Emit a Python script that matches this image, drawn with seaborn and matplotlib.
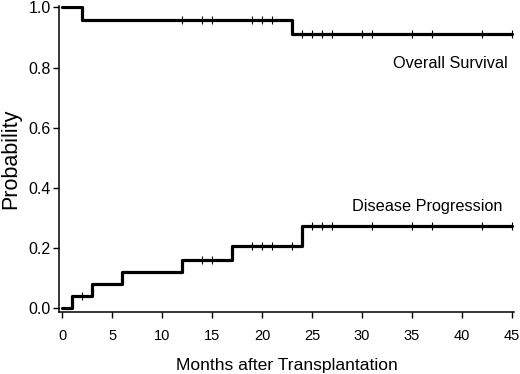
import numpy as np
import pandas as pd
import matplotlib
matplotlib.use("Agg")
import matplotlib.pyplot as plt
import seaborn as sns

sns.set_style("ticks")
plt.rcParams["font.family"] = ["Liberation Sans", "DejaVu Sans"]
plt.rcParams["text.color"] = "black"
plt.rcParams["axes.labelcolor"] = "black"

# curvas (meses, probabilidad)
os_time = [0, 2, 23, 45]
os_prob = [1.0, 0.96, 0.913, 0.913]
os_censor = [12, 14, 15, 19, 20, 21, 24, 25, 26, 27, 30, 31, 35, 37, 42, 45]

dp_time = [0, 1, 3, 6, 12, 17, 24, 45]
dp_prob = [0.0, 0.04, 0.08, 0.12, 0.16, 0.207, 0.274, 0.274]
dp_censor = [2, 14, 15, 19, 20, 21, 23, 25, 26, 27, 31, 35, 37, 42, 45]

x_ticks = [0, 5, 10, 15, 20, 25, 30, 35, 40, 45]
y_ticks = [0.0, 0.2, 0.4, 0.6, 0.8, 1.0]


def step_value(times, probs, t):
    # valor de la curva escalonada en el tiempo t
    i = np.searchsorted(times, t, side="right") - 1
    return np.asarray(probs)[i]


fig = plt.figure(figsize=(5.2, 3.74), dpi=100)
ax = fig.add_axes([0.1135, 0.166, 0.875, 0.818])

for times, probs, cens in [(os_time, os_prob, os_censor), (dp_time, dp_prob, dp_censor)]:
    df = pd.DataFrame({"t": times, "p": probs})
    sns.lineplot(data=df, x="t", y="p", drawstyle="steps-post", color="black",
                 linewidth=2.3, ax=ax)
    dc = pd.DataFrame({"t": cens, "p": step_value(times, probs, cens)})
    sns.scatterplot(data=dc, x="t", y="p", marker="|", s=36, color="black",
                    linewidth=0.8, ax=ax, zorder=3)

ax.text(44.6, 0.815, "Overall Survival", ha="right", va="center", fontsize=11.7, color="black")
ax.text(44.0, 0.337, "Disease Progression", ha="right", va="center", fontsize=11.7, color="black")

ax.set_xlim(-0.3, 45.2)
ax.set_ylim(-0.012, 1.005)
ax.set_xticks(x_ticks)
ax.set_yticks(y_ticks)
ax.set_yticklabels([f"{v:.1f}" for v in y_ticks])
ax.tick_params(axis="both", length=4, width=1, direction="out", colors="black")
ax.tick_params(axis="x", labelsize=10.5, pad=8)
ax.tick_params(axis="y", labelsize=11.5, pad=2)
ax.set_xlabel("Months after Transplantation", fontsize=12.6, labelpad=11, color="black")
ax.set_ylabel("Probability", fontsize=15.5, labelpad=5, color="black")
sns.despine(ax=ax)
for s in ["left", "bottom"]:
    ax.spines[s].set_linewidth(1.1)
    ax.spines[s].set_color("black")

fig.savefig("out.png", dpi=100)
